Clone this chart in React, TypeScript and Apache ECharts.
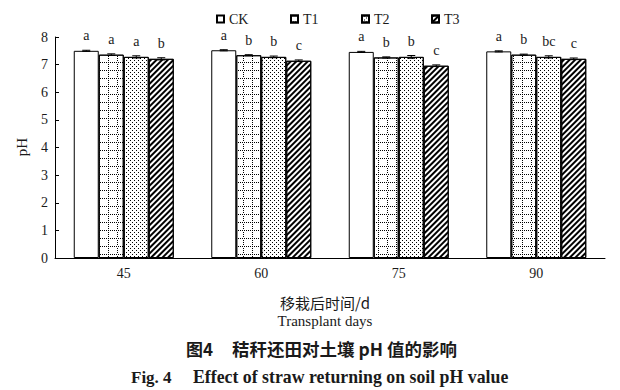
import React, { useEffect, useRef } from "react";
import * as echarts from "echarts";

const categories = ["45", "60", "75", "90"];
const seriesNames = ["CK", "T1", "T2", "T3"];
const ckValues = [7.5, 7.52, 7.46, 7.48];
const t1Values = [7.36, 7.34, 7.26, 7.36];
const t2Values = [7.28, 7.28, 7.28, 7.28];
const t3Values = [7.21, 7.14, 6.96, 7.21];
const ckErr = [0.02, 0.02, 0.02, 0.02];
const t1Err = [0.03, 0.02, 0.02, 0.02];
const t2Err = [0.04, 0.03, 0.05, 0.04];
const t3Err = [0.04, 0.03, 0.03, 0.03];
const ckLetters = ["a", "a", "a", "a"];
const t1Letters = ["a", "b", "b", "b"];
const t2Letters = ["a", "b", "b", "bc"];
const t3Letters = ["b", "c", "c", "c"];
const yTicks = [0, 1, 2, 3, 4, 5, 6, 7, 8];

const SERIF = "Liberation Serif, DejaVu Serif, Noto Sans CJK SC, serif";
const CJK = "Noto Sans CJK SC, Liberation Serif, sans-serif";
const TXT = "#1a1a1a";
const BAR_W = 25;
const legendLefts = [211, 285, 356, 426];

const allValues = [ckValues, t1Values, t2Values, t3Values];
const allErr = [ckErr, t1Err, t2Err, t3Err];
const allLetters = [ckLetters, t1Letters, t2Letters, t3Letters];

const decals: any[] = [
  undefined,
  {
    symbol: "rect",
    symbolSize: 1,
    color: "#000",
    backgroundColor: "#fff",
    dashArrayX: [[1, 1], [1, 8], [1, 8], [1, 8]],
    dashArrayY: [1, 1],
    rotation: 0,
  },
  {
    symbol: "rect",
    symbolSize: 1,
    color: "#000",
    backgroundColor: "#fff",
    dashArrayX: [[1, 3], [0, 2, 1, 1]],
    dashArrayY: [1, 1],
    rotation: 0,
  },
  {
    symbol: "rect",
    symbolSize: 1,
    color: "#000",
    backgroundColor: "#fff",
    dashArrayX: [[1, 0]],
    dashArrayY: [2, 2],
    rotation: -Math.PI / 4,
  },
];

export default function App() {
  const ref = useRef<HTMLDivElement>(null);
  useEffect(() => {
    if (!ref.current) return;
    const chart = echarts.init(ref.current, undefined, { renderer: "svg" });

    const barSeries = seriesNames.map((name, i) => ({
      name,
      type: "bar",
      barWidth: BAR_W,
      barGap: "0%",
      data: allValues[i],
      itemStyle: {
        color: "#fff",
        borderColor: "#000",
        borderWidth: 1,
        decal: decals[i],
      },
      label: {
        show: true,
        position: "top",
        distance: 8,
        formatter: (p: any) => allLetters[i][p.dataIndex],
        fontFamily: SERIF,
        fontSize: 14,
        color: TXT,
      },
      z: 2,
    }));

    const errSeries = seriesNames.map((name, i) => ({
      name: "err-" + name,
      type: "custom",
      z: 5,
      data: categories.map((_, k) => [k, allValues[i][k], allErr[i][k]]),
      renderItem: (params: any, api: any) => {
        const k = api.value(0);
        const v = api.value(1);
        const e = api.value(2);
        const c = api.coord([k, v]);
        const x = c[0] + (i - 1.5) * BAR_W;
        const top = api.coord([k, v + e])[1];
        const bot = api.coord([k, v - e])[1];
        const half = 4;
        const st = { stroke: "#000", lineWidth: 1 };
        return {
          type: "group",
          children: [
            { type: "line", shape: { x1: x, y1: top, x2: x, y2: bot }, style: st },
            { type: "line", shape: { x1: x - half, y1: top, x2: x + half, y2: top }, style: st },
            { type: "line", shape: { x1: x - half, y1: bot, x2: x + half, y2: bot }, style: st },
          ],
        };
      },
    }));

    chart.setOption({
      animation: false,
      backgroundColor: "#fff",
      grid: { left: 55, right: 15, top: 37, bottom: 132 },
      legend: seriesNames.map((n, i) => ({
        data: [n],
        left: legendLefts[i],
        top: 7,
        itemWidth: 7,
        itemHeight: 7,
        itemGap: 0,
        icon: "rect",
        textStyle: { fontFamily: SERIF, fontSize: 14, color: TXT },
      })),
      xAxis: {
        type: "category",
        data: categories,
        axisLine: { lineStyle: { color: "#000", width: 1 } },
        axisTick: { inside: true, length: 5, lineStyle: { color: "#000" } },
        axisLabel: { fontFamily: SERIF, fontSize: 14, color: TXT, margin: 8 },
      },
      yAxis: {
        type: "value",
        min: yTicks[0],
        max: yTicks[yTicks.length - 1],
        interval: 1,
        splitLine: { show: false },
        axisLine: { show: true, lineStyle: { color: "#000", width: 1 } },
        axisTick: { show: true, inside: true, length: 4, lineStyle: { color: "#000" } },
        axisLabel: { fontFamily: SERIF, fontSize: 14, color: TXT, margin: 7 },
      },
      series: [...barSeries, ...errSeries],
      graphic: [
        {
          type: "text",
          x: 22,
          y: 147,
          rotation: Math.PI / 2,
          style: { text: "pH", fontFamily: SERIF, fontSize: 15, fill: TXT, align: "center", verticalAlign: "middle" },
        },
        {
          type: "text",
          x: 325,
          y: 302,
          style: { text: "移栽后时间/d", fontFamily: CJK, fontSize: 15, fill: TXT, align: "center", verticalAlign: "middle" },
        },
        {
          type: "text",
          x: 325,
          y: 321,
          style: { text: "Transplant days", fontFamily: SERIF, fontSize: 15, fill: TXT, align: "center", verticalAlign: "middle" },
        },
        {
          type: "text",
          x: 186,
          y: 348,
          style: { text: "图4", fontFamily: CJK, fontSize: 17, fontWeight: "bold", fill: TXT, align: "left", verticalAlign: "middle" },
        },
        {
          type: "text",
          x: 232,
          y: 348,
          style: { text: "秸秆还田对土壤 pH 值的影响", fontFamily: CJK, fontSize: 17.5, fontWeight: "bold", fill: TXT, align: "left", verticalAlign: "middle" },
        },
        {
          type: "text",
          x: 131,
          y: 377,
          style: { text: "Fig. 4", fontFamily: SERIF, fontSize: 17, fontWeight: "bold", fill: TXT, align: "left", verticalAlign: "middle" },
        },
        {
          type: "text",
          x: 193,
          y: 377,
          style: { text: "Effect of straw returning on soil pH value", fontFamily: SERIF, fontSize: 17.8, fontWeight: "bold", fill: TXT, align: "left", verticalAlign: "middle" },
        },
      ],
    });
    return () => chart.dispose();
  }, []);
  return <div ref={ref} style={{ width: 620, height: 390, position: "absolute", left: 0, top: 0 }} />;
}
